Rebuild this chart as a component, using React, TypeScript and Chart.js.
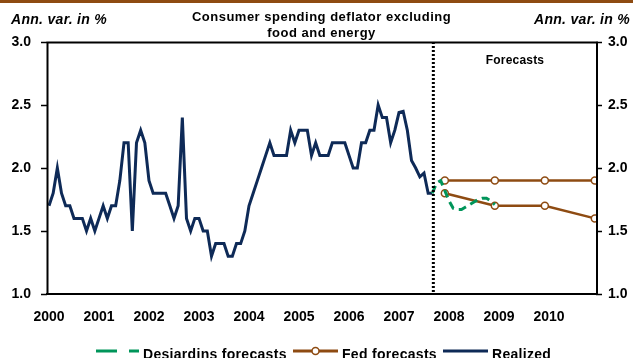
import React, { useEffect, useRef } from 'react';
import { Chart, registerables } from 'chart.js';

Chart.register(...registerables);

// ---- Data ----
const years = [2000, 2001, 2002, 2003, 2004, 2005, 2006, 2007, 2008, 2009, 2010];
const yTicks = [1.0, 1.5, 2.0, 2.5, 3.0];

// Realized: monthly, Jan 2000 .. Sep 2007
const realizedStartYear = 2000;
const realizedValues = [
  1.7, 1.8, 2.0, 1.8, 1.7, 1.7, 1.6, 1.6, 1.6, 1.5, 1.6, 1.5,
  1.6, 1.7, 1.6, 1.7, 1.7, 1.9, 2.2, 2.2, 1.5, 2.2, 2.3, 2.2,
  1.9, 1.8, 1.8, 1.8, 1.8, 1.7, 1.6, 1.7, 2.4, 1.6, 1.5, 1.6,
  1.6, 1.5, 1.5, 1.3, 1.4, 1.4, 1.4, 1.3, 1.3, 1.4, 1.4, 1.5,
  1.7, 1.8, 1.9, 2.0, 2.1, 2.2, 2.1, 2.1, 2.1, 2.1, 2.3, 2.2,
  2.3, 2.3, 2.3, 2.1, 2.2, 2.1, 2.1, 2.1, 2.2, 2.2, 2.2, 2.2,
  2.1, 2.0, 2.0, 2.2, 2.2, 2.3, 2.3, 2.5, 2.4, 2.4, 2.2, 2.3,
  2.44, 2.45, 2.3, 2.06, 2.0, 1.93, 1.96, 1.8, 1.8,
];

// Desjardins forecasts: monthly, Sep 2007 .. Dec 2008
const desjardinsStartYear = 2007;
const desjardinsStartMonth = 8; // September (0-based)
const desjardinsValues = [
  1.8, 1.88, 1.9, 1.82, 1.74, 1.68, 1.67, 1.67, 1.69, 1.71, 1.73, 1.75, 1.76, 1.76, 1.74, 1.71,
];

// Fed forecasts (Q4 of each year)
const fedYears = [2007, 2008, 2009, 2010];
const fedUpper = [1.9, 1.9, 1.9, 1.9];
const fedLower = [1.8, 1.7, 1.7, 1.6];

const forecastLineYear = 2007;
const forecastLineMonth = 8;

const titleLines = ['Consumer spending deflator excluding', 'food and energy'];
const unitLabel = 'Ann. var. in %';
const forecastsLabel = 'Forecasts';
const legendLabels = ['Desjardins forecasts', 'Fed forecasts', 'Realized'];

// ---- Styles ----
const NAVY = '#0E2A57';
const GREEN = '#00955A';
const BROWN = '#8E4B12';
const FONT = '"Liberation Sans", Arial, Helvetica, sans-serif';

const monthX = (y: number, m: number) => y + m / 12;

const decorPlugin = {
  id: 'decor',
  afterDatasetsDraw(chart: any) {
    const { ctx, chartArea: a, scales } = chart;
    ctx.save();
    // forecast dotted line
    const xf = scales.x.getPixelForValue(monthX(forecastLineYear, forecastLineMonth)) + 1;
    ctx.strokeStyle = '#000';
    ctx.lineWidth = 3;
    ctx.setLineDash([2, 2]);
    ctx.beginPath();
    ctx.moveTo(xf, a.top);
    ctx.lineTo(xf, a.bottom);
    ctx.stroke();
    ctx.setLineDash([]);
    // frame
    ctx.lineWidth = 2;
    ctx.beginPath();
    ctx.moveTo(a.left + 0.5, a.bottom);
    ctx.lineTo(a.left + 0.5, a.top + 0.5);
    ctx.lineTo(a.right + 1, a.top + 0.5);
    ctx.lineTo(a.right + 1, a.bottom);
    ctx.lineTo(a.left - 1, a.bottom);
    ctx.stroke();
    ctx.restore();
  },
  afterDraw(chart: any) {
    const { ctx, chartArea: a } = chart;
    const W = chart.width;
    ctx.save();
    // top band
    ctx.fillStyle = BROWN;
    ctx.fillRect(0, 0, W, 3);

    ctx.fillStyle = '#000';
    ctx.textBaseline = 'middle';
    // title
    ctx.font = `bold 13px ${FONT}`;
    (ctx as any).letterSpacing = '0.5px';
    ctx.textAlign = 'center';
    const cx = (a.left + a.right) / 2;
    ctx.fillText(titleLines[0], cx, 17);
    ctx.fillText(titleLines[1], cx, 33);

    // unit labels
    ctx.font = `italic bold 14px ${FONT}`;
    (ctx as any).letterSpacing = '0.3px';
    ctx.textAlign = 'left';
    ctx.fillText(unitLabel, 11, 20);
    ctx.textAlign = 'right';
    ctx.fillText(unitLabel, 630, 20);

    // forecasts label
    ctx.font = `bold 12px ${FONT}`;
    (ctx as any).letterSpacing = '0.2px';
    ctx.textAlign = 'center';
    ctx.fillText(forecastsLabel, 515, 61);

    // legend
    const ly = 351;
    ctx.font = `bold 14px ${FONT}`;
    (ctx as any).letterSpacing = '0.3px';
    ctx.textAlign = 'left';
    ctx.textBaseline = 'alphabetic';
    // Desjardins
    ctx.strokeStyle = GREEN;
    ctx.lineWidth = 3;
    ctx.beginPath();
    ctx.moveTo(96, ly); ctx.lineTo(117, ly);
    ctx.moveTo(129, ly); ctx.lineTo(139, ly);
    ctx.stroke();
    ctx.fillText(legendLabels[0], 143, 358.5);
    // Fed
    ctx.strokeStyle = BROWN;
    ctx.beginPath();
    ctx.moveTo(293, ly); ctx.lineTo(338, ly);
    ctx.stroke();
    ctx.beginPath();
    ctx.arc(315.5, ly, 3.5, 0, Math.PI * 2);
    ctx.fillStyle = '#fff';
    ctx.fill();
    ctx.lineWidth = 1.5;
    ctx.stroke();
    ctx.fillStyle = '#000';
    ctx.fillText(legendLabels[1], 342, 358.5);
    // Realized
    ctx.strokeStyle = NAVY;
    ctx.lineWidth = 3;
    ctx.beginPath();
    ctx.moveTo(443, ly); ctx.lineTo(488, ly);
    ctx.stroke();
    ctx.fillText(legendLabels[2], 492, 358.5);
    ctx.restore();
  },
};

export default function App() {
  const ref = useRef<HTMLCanvasElement | null>(null);

  useEffect(() => {
    document.body.style.margin = '0';
    const canvas = ref.current;
    if (!canvas) return;

    const realized = realizedValues.map((v, k) => ({ x: monthX(realizedStartYear, k), y: v }));
    const desj = desjardinsValues.map((v, i) => ({
      x: monthX(desjardinsStartYear, desjardinsStartMonth + i),
      y: v,
    }));
    const fedU = fedUpper.map((v, i) => ({ x: monthX(fedYears[i], 11), y: v }));
    const fedL = fedLower.map((v, i) => ({ x: monthX(fedYears[i], 11), y: v }));

    const tickFont = { family: FONT, size: 14, weight: 'bold' as const };

    const chart = new Chart(canvas, {
      type: 'line',
      data: {
        datasets: [
          {
            label: legendLabels[0],
            data: desj,
            borderColor: GREEN,
            borderWidth: 3,
            borderDash: [8, 5],
            pointRadius: 0,
            tension: 0,
            yAxisID: 'y',
          },
          {
            label: legendLabels[1],
            data: fedU,
            borderColor: BROWN,
            borderWidth: 2.5,
            pointRadius: 3.5,
            pointBackgroundColor: '#fff',
            pointBorderColor: BROWN,
            pointBorderWidth: 1.5,
            tension: 0,
            yAxisID: 'y',
          },
          {
            label: legendLabels[1] + ' (low)',
            data: fedL,
            borderColor: BROWN,
            borderWidth: 2.5,
            pointRadius: 3.5,
            pointBackgroundColor: '#fff',
            pointBorderColor: BROWN,
            pointBorderWidth: 1.5,
            tension: 0,
            yAxisID: 'y',
          },
          {
            label: legendLabels[2],
            data: realized,
            borderColor: NAVY,
            borderWidth: 3,
            pointRadius: 0,
            tension: 0,
            yAxisID: 'y',
          },
        ],
      },
      options: {
        responsive: false,
        animation: false,
        devicePixelRatio: 1,
        layout: { padding: { top: 42, left: 0, right: 0, bottom: 0 } },
        plugins: {
          legend: { display: false },
          title: { display: false },
          tooltip: { enabled: false },
        },
        scales: {
          x: {
            type: 'linear',
            min: 1999.96,
            max: 2010.94,
            afterBuildTicks: (s: any) => {
              s.ticks = years.map((v) => ({ value: v }));
            },
            afterFit: (s: any) => {
              s.height = 64;
            },
            ticks: {
              callback: (v: any) => String(v),
              font: tickFont,
              color: '#000',
              padding: 15,
              autoSkip: false,
              maxRotation: 0,
            },
            grid: { display: false, drawTicks: false },
            border: { display: false },
          },
          y: {
            position: 'left',
            min: 1,
            max: 3,
            afterBuildTicks: (s: any) => {
              s.ticks = yTicks.map((v) => ({ value: v }));
            },
            afterFit: (s: any) => {
              s.width = 47;
            },
            ticks: {
              callback: (v: any) => Number(v).toFixed(1),
              font: tickFont,
              color: '#000',
              padding: 10,
            },
            grid: {
              drawOnChartArea: false,
              drawTicks: true,
              tickLength: 6,
              tickColor: '#000',
              tickWidth: 1.5,
            },
            border: { display: false },
          },
          y2: {
            position: 'right',
            min: 1,
            max: 3,
            afterBuildTicks: (s: any) => {
              s.ticks = yTicks.map((v) => ({ value: v }));
            },
            afterFit: (s: any) => {
              s.width = 37;
            },
            ticks: {
              callback: (v: any) => Number(v).toFixed(1),
              font: tickFont,
              color: '#000',
              padding: 6,
            },
            grid: {
              drawOnChartArea: false,
              drawTicks: true,
              tickLength: 6,
              tickColor: '#000',
              tickWidth: 1.5,
            },
            border: { display: false },
          },
        },
      } as any,
      plugins: [decorPlugin],
    });

    return () => chart.destroy();
  }, []);

  return (
    <div style={{ position: 'absolute', left: 0, top: 0, width: 633, height: 358, background: '#fff' }}>
      <canvas ref={ref} width={633} height={358} style={{ display: 'block', width: 633, height: 358 }} />
    </div>
  );
}
